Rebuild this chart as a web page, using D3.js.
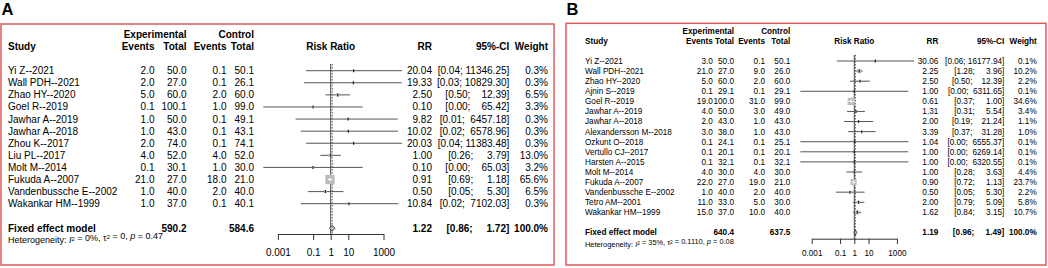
<!DOCTYPE html>
<html><head><meta charset="utf-8">
<script src="https://cdn.jsdelivr.net/npm/d3@7"></script>
<style>
body{margin:0;background:#fff;}
svg{font-family:"Liberation Sans",Arial,Helvetica,sans-serif;}
</style></head><body>
<svg id="c" width="1048" height="268"></svg>
<script>
// ---------- Panel A data ----------
const studiesA = ["Yi Z--2021","Wall PDH--2021","Zhao HY--2020","Goel R--2019","Jawhar A--2019","Jawhar A--2018","Zhou K--2017","Liu PL--2017","Molt M--2014","Fukuda A--2007","Vandenbussche E--2002","Wakankar HM--1999"];
const expEventsA = [2.0,2.0,5.0,0.1,1.0,1.0,2.0,4.0,0.1,21.0,1.0,1.0];
const expTotalA  = [50.0,27.0,60.0,100.1,50.0,43.0,74.0,52.0,30.1,27.0,40.0,37.0];
const ctlEventsA = [0.1,0.1,2.0,1.0,0.1,0.1,0.1,4.0,1.0,18.0,2.0,0.1];
const ctlTotalA  = [50.1,26.1,60.0,99.0,49.1,43.1,74.1,52.0,30.0,21.0,40.0,40.1];
const rrA    = [20.04,19.33,2.50,0.10,9.82,10.02,20.03,1.00,0.10,0.91,0.50,10.84];
const ciLowA = [0.04,0.03,0.50,0.00015,0.01,0.02,0.04,0.26,0.00015,0.69,0.05,0.02];
const ciHighA= [11346.25,10829.30,12.39,65.42,6457.18,6578.96,11383.48,3.79,65.03,1.18,5.30,7102.03];
const weightA= [0.3,0.3,6.5,3.3,0.3,0.3,0.3,13.0,3.2,65.6,6.5,0.3];
const fixedA = {expTotal:590.2, ctlTotal:584.6, rr:1.22, lo:0.86, hi:1.72, weight:100.0};
const hetA = {i2:"0%", tau2:"0", p:"0.47"};

// ---------- Panel B data ----------
const studiesB = ["Yi Z--2021","Wall PDH--2021","Zhao HY--2020","Ajnin S--2019","Goel R--2019","Jawhar A--2019","Jawhar A--2018","Alexandersson M--2018","Ozkunt O--2018","Vertullo CJ--2017","Harsten A--2015","Molt M--2014","Fukuda A--2007","Vandenbussche E--2002","Tetro AM--2001","Wakankar HM--1999"];
const expEventsB = [3.0,21.0,5.0,0.1,19.0,4.0,2.0,3.0,0.1,0.1,0.1,4.0,22.0,1.0,11.0,15.0];
const expTotalB  = [50.0,27.0,60.0,29.1,100.0,50.0,43.0,38.0,24.1,20.1,32.1,30.0,27.0,40.0,33.0,37.0];
const ctlEventsB = [0.1,9.0,2.0,0.1,31.0,3.0,1.0,1.0,0.1,0.1,0.1,4.0,19.0,2.0,5.0,10.0];
const ctlTotalB  = [50.1,26.0,60.0,29.1,99.0,49.0,43.0,43.0,25.1,20.1,32.1,30.0,21.0,40.0,30.0,40.0];
const rrB    = [30.06,2.25,2.50,1.00,0.61,1.31,2.00,3.39,1.04,1.00,1.00,1.00,0.90,0.50,2.00,1.62];
const ciLowB = [0.06,1.28,0.50,0.00016,0.37,0.31,0.19,0.37,0.00016,0.00016,0.00016,0.28,0.72,0.05,0.79,0.84];
const ciHighB= [16177.94,3.96,12.39,6311.65,1.00,5.54,21.24,31.28,6555.37,6269.14,6320.55,3.63,1.13,5.30,5.09,3.15];
const weightB= [0.1,10.2,2.2,0.1,34.6,3.4,1.1,1.0,0.1,0.1,0.1,4.4,23.7,2.2,5.8,10.7];
const fixedB = {expTotal:640.4, ctlTotal:637.5, rr:1.19, lo:0.96, hi:1.49, weight:100.0};
const hetB = {i2:"35%", tau2:"0.1110", p:"0.08"};

const tickValues = [0.001, 0.1, 1, 10, 1000];
const tickLabels = ["0.001","0.1","1","10","1000"];

// ---------- layout ----------
const layoutA = {label:"A", labelX:1.5, frame:[1,24,554,265], fs:10, hetFs:9, studyX:8,
  expEv:154.5, expTot:186.5, ctlEv:226.5, ctlTot:254, hdrY1:34.7, hdrY2:46.7,
  row0:70.7, rowStep:12.09, fixedY:228.3, hetY:239.5, axisY:234, tickLen:6, tickLabelY:252,
  x1:330.7, decade:17.6, rrX:432, ciX:509.3, wX:548, lineTop:64, sqMax:9.3, dh:3};
const layoutB = {label:"B", labelX:566.5, frame:[566,23.3,1046,265], fs:8.2, hetFs:7.4, studyX:585,
  expEv:712.8, expTot:734, ctlEv:765, ctlTot:790.3, hdrY1:31, hdrY2:41,
  row0:61, rowStep:10.09, fixedY:232.5, hetY:244.3, axisY:238.7, tickLen:5.3, tickLabelY:253.3,
  x1:854.3, decade:14.2, rrX:938.3, ciX:1004.3, wX:1036.7, lineTop:55, sqMax:7.3, dh:2.6};

const svg = d3.select("#c");
const f1 = d3.format(".1f"), f2 = d3.format(".2f");

function drawPanel(L, d) {
  const g = svg.append("g");
  g.append("rect").attr("x",L.frame[0]).attr("y",L.frame[1])
    .attr("width",L.frame[2]-L.frame[0]).attr("height",L.frame[3]-L.frame[1])
    .attr("fill","none").attr("stroke","#e05a5a").attr("stroke-width",1.5);
  g.append("text").attr("x",L.labelX).attr("y",15).attr("font-size",16.5).attr("font-weight","bold").text(L.label);

  const txt = (x,y,s,anchor,opts={}) => {
    const t = g.append("text").attr("x",x).attr("y",y).attr("dy","0.35em")
      .attr("font-size",opts.fs||L.fs).attr("text-anchor",anchor||"start").text(s);
    if (opts.bold) t.attr("font-weight","bold");
    return t;
  };
  txt(L.expTot,L.hdrY1,"Experimental","end",{bold:1});
  txt(L.ctlTot,L.hdrY1,"Control","end",{bold:1});
  txt(L.studyX,L.hdrY2,"Study","start",{bold:1});
  txt(L.expEv,L.hdrY2,"Events","end",{bold:1});
  txt(L.expTot,L.hdrY2,"Total","end",{bold:1});
  txt(L.ctlEv,L.hdrY2,"Events","end",{bold:1});
  txt(L.ctlTot,L.hdrY2,"Total","end",{bold:1});
  txt(L.x1,L.hdrY2,"Risk Ratio","middle",{bold:1});
  txt(L.rrX,L.hdrY2,"RR","end",{bold:1});
  txt(L.ciX,L.hdrY2,"95%-CI","end",{bold:1});
  txt(L.wX,L.hdrY2,"Weight","end",{bold:1});

  const x = d3.scaleLog().domain([0.001,1000]).range([L.x1-3*L.decade, L.x1+3*L.decade]);
  const y = i => L.row0 + i*L.rowStep;
  const n = d.studies.length;
  const hiStrs = d.ciHigh.map(f2).concat([f2(d.fixed.hi)]);
  const padLen = d3.max(hiStrs, s=>s.length);
  const ciStr = (lo,hi) => { const h=f2(hi); return "[" + f2(lo) + "; " + "\u00A0".repeat(padLen-h.length) + h + "]"; };
  const wMax = d3.max(d.weight);

  g.append("line").attr("x1",x(1)).attr("x2",x(1)).attr("y1",L.lineTop).attr("y2",L.axisY)
    .attr("stroke","#444").attr("stroke-width",1);
  g.append("line").attr("x1",x(d.fixed.rr)).attr("x2",x(d.fixed.rr)).attr("y1",L.lineTop).attr("y2",L.axisY)
    .attr("stroke","#555").attr("stroke-width",1).attr("stroke-dasharray","1.5,1.5");

  for (let i=0;i<n;i++) {
    const yy = y(i);
    txt(L.studyX,yy,d.studies[i]);
    txt(L.expEv,yy,f1(d.expEvents[i]),"end");
    txt(L.expTot,yy,f1(d.expTotal[i]),"end");
    txt(L.ctlEv,yy,f1(d.ctlEvents[i]),"end");
    txt(L.ctlTot,yy,f1(d.ctlTotal[i]),"end");
    txt(L.rrX,yy,f2(d.rr[i]),"end");
    txt(L.ciX,yy,ciStr(d.ciLow[i],d.ciHigh[i]),"end");
    txt(L.wX,yy,f1(d.weight[i])+"%","end");
    g.append("line").attr("x1",x(d.ciLow[i])).attr("x2",x(d.ciHigh[i])).attr("y1",yy).attr("y2",yy)
      .attr("stroke","#555").attr("stroke-width",1);
    const s = L.sqMax*Math.sqrt(d.weight[i]/wMax);
    const cx = x(d.rr[i]);
    g.append("rect").attr("x",cx-s/2).attr("y",yy-s/2).attr("width",s).attr("height",s).attr("fill","#bdbdbd");
    const inner = s>5 ? "#fff" : "#222";
    if (s>5) {
      const a = Math.max(cx-s/2, x(d.ciLow[i])), b = Math.min(cx+s/2, x(d.ciHigh[i]));
      g.append("line").attr("x1",a).attr("x2",b).attr("y1",yy).attr("y2",yy).attr("stroke","#fff").attr("stroke-width",1);
    }
    g.append("line").attr("x1",cx).attr("x2",cx).attr("y1",yy-1.5).attr("y2",yy+1.5)
      .attr("stroke",inner).attr("stroke-width",1.2);
  }
  const fy = L.fixedY;
  txt(L.studyX,fy,"Fixed effect model","start",{bold:1});
  txt(L.expTot,fy,f1(d.fixed.expTotal),"end",{bold:1});
  txt(L.ctlTot,fy,f1(d.fixed.ctlTotal),"end",{bold:1});
  txt(L.rrX,fy,f2(d.fixed.rr),"end",{bold:1});
  txt(L.ciX,fy,ciStr(d.fixed.lo,d.fixed.hi),"end",{bold:1});
  txt(L.wX,fy,f1(d.fixed.weight)+"%","end",{bold:1});
  const pts = [[x(d.fixed.lo),fy],[x(d.fixed.rr),fy-L.dh],[x(d.fixed.hi),fy],[x(d.fixed.rr),fy+L.dh]];
  g.append("polygon").attr("points",pts.map(p=>p.join(",")).join(" "))
    .attr("fill","#bdbdbd").attr("stroke","#333").attr("stroke-width",0.9);

  const ht = g.append("text").attr("x",L.studyX).attr("y",L.hetY).attr("dy","0.35em").attr("font-size",L.hetFs);
  const sup = t => { ht.append("tspan").attr("dy","-0.3em").attr("font-size",L.hetFs*0.65).text(t);
                     ht.append("tspan").attr("dy","0.3em").text(""); };
  ht.append("tspan").text("Heterogeneity: ");
  ht.append("tspan").attr("font-style","italic").text("I");
  sup("2");
  ht.append("tspan").text(" = " + d.het.i2 + ", \u03C4");
  sup("2");
  ht.append("tspan").text(" = " + d.het.tau2 + ", ");
  ht.append("tspan").attr("font-style","italic").text("p");
  ht.append("tspan").text(" = " + d.het.p);

  const axis = d3.axisBottom(x).tickValues(tickValues).tickFormat((v,i)=>tickLabels[i]).tickSize(L.tickLen).tickSizeOuter(0);
  const ag = g.append("g").attr("transform",`translate(0,${L.axisY})`).call(axis);
  ag.select(".domain").attr("stroke","#333");
  ag.selectAll(".tick line").attr("stroke","#333");
  ag.selectAll(".tick text").attr("font-size",L.fs).attr("font-family","Liberation Sans, Arial, sans-serif")
    .attr("fill","#000").attr("y",0).attr("dy","0.35em")
    .attr("transform",`translate(0,${L.tickLabelY-L.axisY})`);
}

drawPanel(layoutA, {studies:studiesA, expEvents:expEventsA, expTotal:expTotalA, ctlEvents:ctlEventsA, ctlTotal:ctlTotalA,
  rr:rrA, ciLow:ciLowA, ciHigh:ciHighA, weight:weightA, fixed:fixedA, het:hetA});
drawPanel(layoutB, {studies:studiesB, expEvents:expEventsB, expTotal:expTotalB, ctlEvents:ctlEventsB, ctlTotal:ctlTotalB,
  rr:rrB, ciLow:ciLowB, ciHigh:ciHighB, weight:weightB, fixed:fixedB, het:hetB});
</script>
</body></html>
